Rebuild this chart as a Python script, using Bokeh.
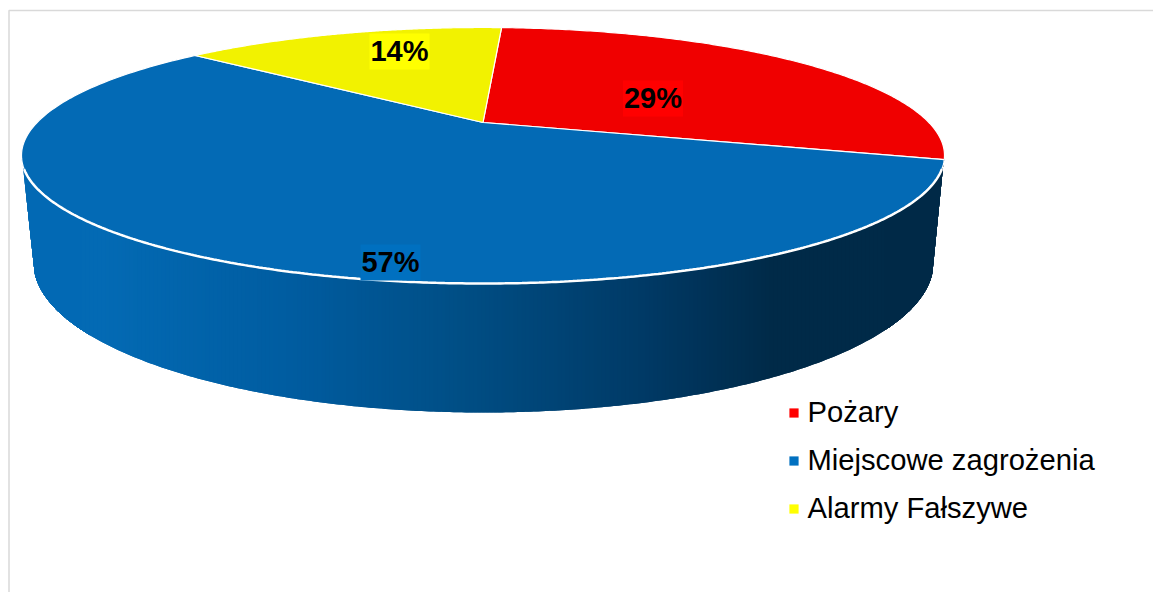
import numpy as np
from bokeh.embed import file_html
from bokeh.resources import INLINE
from bokeh.plotting import figure
from bokeh.models import Range1d, Legend, LegendItem, ColumnDataSource
from bokeh.core.properties import value

# data
categories = ["Pożary", "Miejscowe zagrożenia", "Alarmy Fałszywe"]
shares = [28.8, 56.75, 14.45]
value_labels = ["29%", "57%", "14%"]

# styles and layout (pixel space of the page)
top_colors = ["#f00000", "#036ab5", "#f2f200"]
key_colors = ["#ff0000", "#0070c0", "#ffff00"]
START_DEG = 3.0
CX, CY = 482.5, 122.0      # pie centre as seen in perspective
FAR, NEAR = 95.0, 161.0    # distance of far and near rim from the centre
RX = 461.5
ELL_CY = CY + (NEAR - FAR) / 2
ELL_RY = (NEAR + FAR) / 2
BOT_CX, BOT_CY, BOT_RX, BOT_RY = 483.0, 262.0, 450.0, 150.0
CORNER_DY = 10.0
LABEL_X = [652.5, 390, 399]
LABEL_Y = [98, 262, 51]
BOX_W, BOX_H = 60, 36
SHADE_X = [100, 290, 460, 640, 770]
SHADE_R = [3, 0, 0, 0, 0]
SHADE_G = [106, 92, 78, 58, 42]
SHADE_B = [180, 160, 133, 102, 72]

ratio = NEAR / FAR
K = (ratio - 1) / (ratio + 1)
A = FAR * (1 + K)
B = RX * np.sqrt(1 - K * K)


def rim(theta_deg, r=1.0):
    t = np.radians(theta_deg)
    u, v = r * np.sin(t), r * np.cos(t)
    w = 1 + K * v
    return CX + B * u / w, CY - A * v / w


p = figure(width=1153, height=592, output_backend="svg", toolbar_location=None,
           x_range=Range1d(0, 1153), y_range=Range1d(592, 0),
           x_axis_type=None, y_axis_type=None, min_border=0,
           outline_line_color=None, background_fill_color="white",
           border_fill_color="white")
p.grid.visible = False

# frame
p.line([8.5, 8.5, 1153], [592, 10, 10], line_color="#d9d9d9", line_width=1.5)

# front wall with left-to-right shading
left_end, right_end = CX - RX + 0.3, CX + RX - 0.3
edge = np.unique(np.r_[
    np.arange(left_end, left_end + 60, 1.0),
    np.arange(left_end + 60, right_end - 60, 4.0),
    np.arange(right_end - 60, right_end, 1.0),
    right_end,
])
y_top = ELL_CY + ELL_RY * np.sqrt(np.clip(1 - ((edge - CX) / RX) ** 2, 0, 1))
tang = BOT_RX * np.sqrt(1 - (CORNER_DY / BOT_RY) ** 2)
y_bot = BOT_CY + BOT_RY * np.sqrt(np.clip(1 - ((edge - BOT_CX) / BOT_RX) ** 2, 0, 1))
corner_y = BOT_CY + CORNER_DY
lo, hi = BOT_CX - tang, BOT_CX + tang
mask = edge < lo
y_bot[mask] = ELL_CY + (corner_y - ELL_CY) * (edge[mask] - left_end) / (lo - left_end)
mask = edge > hi
y_bot[mask] = ELL_CY + (corner_y - ELL_CY) * (right_end - edge[mask]) / (right_end - hi)


def shade(x):
    return "#%02x%02x%02x" % (int(round(np.interp(x, SHADE_X, SHADE_R))),
                              int(round(np.interp(x, SHADE_X, SHADE_G))),
                              int(round(np.interp(x, SHADE_X, SHADE_B))))


wall_x, wall_y, wall_c = [], [], []
for i in range(len(edge) - 1):
    # each strip runs some pixels under the next one, following the curves, to hide seams
    j = min(int(np.searchsorted(edge, edge[i] + 8.0)), len(edge) - 1)
    wall_x.append(np.r_[edge[i:j + 1], edge[i:j + 1][::-1]])
    wall_y.append(np.r_[y_top[i:j + 1], y_bot[i:j + 1][::-1]])
    wall_c.append(shade(edge[i]))
p.patches(wall_x, wall_y, fill_color=wall_c, line_color=None)

# top face
angles = START_DEG + 3.6 * np.concatenate([[0], np.cumsum(shares)])
xs, ys = [], []
for i in range(len(shares)):
    th = np.linspace(angles[i], angles[i + 1], 180)
    x, y = rim(th)
    xs.append(np.r_[CX, x])
    ys.append(np.r_[CY, y])
p.patches(xs, ys, fill_color=top_colors, line_color="white", line_width=1.2)

# white front rim of the top face
th = np.linspace(angles[1], angles[2], 500)
fx, fy = rim(th)
keep = fy >= 168
p.line(fx[keep], fy[keep], line_color="white", line_width=2.5)

# value labels on their boxes
lx, ly = np.array(LABEL_X, float), np.array(LABEL_Y, float)
p.quad(left=lx - BOX_W / 2, right=lx + BOX_W / 2, top=ly - BOX_H / 2, bottom=ly + BOX_H / 2,
       fill_color=key_colors, line_color=None)
p.text(lx, ly - 0.5, text=value_labels, text_align="center", text_baseline="middle",
       text_font=value("Liberation Sans"), text_font_style="bold",
       text_font_size="29px", text_color="black")

# legend
src = ColumnDataSource(dict(x=[float("nan")], y=[float("nan")]))
items = []
for name, col in zip(categories, key_colors):
    r = p.scatter("x", "y", source=src, marker="square", size=9, fill_color=col, line_color=None)
    items.append(LegendItem(label=name, renderers=[r]))
leg = Legend(items=items, location=(781.5, 67), orientation="vertical",
             border_line_color=None, background_fill_alpha=0,
             padding=0, margin=0, glyph_width=23, glyph_height=23,
             label_height=23, label_standoff=3, spacing=15,
             label_text_font="Liberation Sans", label_text_font_size="29.2px",
             label_text_color="black", label_text_baseline="middle")
p.add_layout(leg, "center")

open("out.html", "w").write(file_html(p, INLINE))
